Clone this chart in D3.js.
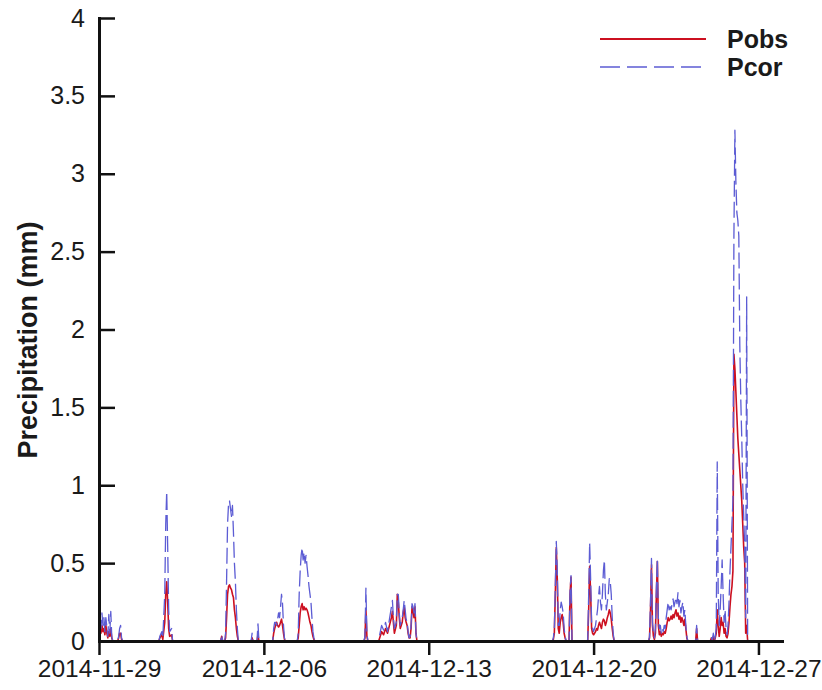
<!DOCTYPE html>
<html>
<head>
<meta charset="utf-8">
<script src="https://cdn.jsdelivr.net/npm/d3@7"></script>
<style>
  body { margin: 0; background: #fff; }
  svg { display: block; }
  text { font-family: Arial, "Liberation Sans", sans-serif; fill: #1a1a1a; }
</style>
</head>
<body>
<svg id="chart" width="822" height="690"></svg>
<script>
// Hourly precipitation, 2014-11-29 to 2014-12-28 (hours counted from the start).
const startTime = "2014-11-29T00:00:00Z";
const endTime = "2014-12-28T00:00:00Z";
const dateTicks = ["2014-11-29", "2014-12-06", "2014-12-13", "2014-12-20", "2014-12-27"];
const yTicks = [0, 0.5, 1, 1.5, 2, 2.5, 3, 3.5, 4];
const seriesNames = ["Pobs", "Pcor"];

// Wet hours only; dry spells are bracketed by zero readings.
const hours = [
  0, 1, 2, 3, 4, 5, 6, 7, 8, 9, 10, 11, 12, 13, 14,
  19, 20, 21, 22, 23, 24,
  61, 62, 64, 65, 67, 68, 69, 70, 71, 72, 74, 75,
  124, 125, 126,
  128, 129, 130, 131, 132, 133, 134, 135, 136, 137, 138, 139, 140, 141, 142,
  155, 156, 157, 161, 162, 163,
  177, 178, 179, 180, 181, 182, 183, 184, 185, 186, 187, 188, 189, 190,
  202, 203, 204, 205, 206, 207, 208, 209, 210, 211, 212, 213, 214, 215, 216, 217, 218, 219, 220,
  270, 271, 272, 273, 274,
  285, 286, 288, 290, 292, 294, 296, 298, 299, 300, 301, 303, 304, 305, 306, 307,
  309, 310, 311, 312, 313, 314, 315, 316, 317, 318, 319, 320, 321, 322, 323, 324,
  462, 463, 464, 465, 466, 467, 468, 469, 470, 471, 472, 473, 474, 475, 476,
  479, 480, 481, 482,
  498, 499, 500, 501, 502, 503, 504, 505, 506, 507, 508, 509, 510, 511, 512, 513,
  514, 515, 516, 517, 518, 519, 520, 521, 522, 523, 524, 525,
  560, 561, 562, 563, 564, 565, 566, 567, 568, 569, 570, 571, 572, 573, 574, 575,
  576, 577, 578, 579, 580, 581, 582, 583, 584, 585, 586, 587, 588, 589, 590, 591,
  592, 593, 594, 595, 596, 597, 598, 599, 600,
  608, 609, 610,
  623, 624, 625, 626, 627, 628, 629, 630, 631, 632, 633, 634, 635, 636, 637, 638,
  639, 640, 641, 642, 643, 644, 645, 646, 647, 648, 649, 650, 651, 652, 653, 654,
  655, 656, 657, 658, 659, 660, 661
];

const pobs = [
  0.10, 0.12, 0.05, 0.10, 0.06, 0.08, 0.04, 0.10, 0.05, 0.02, 0.06, 0.03, 0.08, 0.02, 0,
  0, 0.02, 0.05, 0.05, 0.01, 0,
  0, 0.02, 0.04, 0.01, 0.12, 0.30, 0.38, 0.25, 0.08, 0.03, 0.04, 0,
  0, 0.03, 0,
  0, 0.02, 0.15, 0.30, 0.35, 0.36, 0.34, 0.33, 0.30, 0.28, 0.20, 0.15, 0.08, 0.03, 0,
  0, 0.02, 0, 0, 0.04, 0,
  0, 0.05, 0.08, 0.10, 0.12, 0.10, 0.09, 0.10, 0.12, 0.14, 0.10, 0.05, 0.01, 0,
  0, 0.02, 0.10, 0.18, 0.22, 0.24, 0.20, 0.22, 0.20, 0.21, 0.20, 0.18, 0.15, 0.12, 0.10, 0.06, 0.03, 0.01, 0,
  0, 0.02, 0.20, 0.03, 0,
  0, 0.02, 0.06, 0.04, 0.08, 0.05, 0.10, 0.15, 0.19, 0.12, 0.05, 0.10, 0.30, 0.25, 0.15, 0.08,
  0.12, 0.18, 0.22, 0.15, 0.12, 0.10, 0.05, 0.02, 0.02, 0.08, 0.22, 0.20, 0.15, 0.22, 0.05, 0,
  0, 0.01, 0.05, 0.30, 0.60, 0.40, 0.08, 0.05, 0.12, 0.15, 0.17, 0.12, 0.05, 0.02, 0,
  0, 0.30, 0.41, 0,
  0, 0.20, 0.48, 0.30, 0.08, 0.05, 0.04, 0.05, 0.06, 0.08, 0.07, 0.10, 0.12, 0.10, 0.08, 0.12,
  0.14, 0.13, 0.10, 0.12, 0.15, 0.17, 0.20, 0.18, 0.14, 0.08, 0.03, 0,
  0, 0.02, 0.20, 0.49, 0.10, 0.03, 0.01, 0.05, 0.30, 0.51, 0.10, 0.04, 0.06, 0.03, 0.05, 0.04,
  0.06, 0.05, 0.08, 0.12, 0.15, 0.13, 0.14, 0.16, 0.14, 0.17, 0.15, 0.18, 0.20, 0.16, 0.18, 0.14,
  0.16, 0.12, 0.15, 0.13, 0.10, 0.14, 0.08, 0.02, 0,
  0, 0.08, 0,
  0, 0.02, 0, 0.03, 0, 0.02, 0.05, 0.20, 0.10, 0.03, 0.08, 0.15, 0.10, 0.12, 0.05, 0.08,
  0.03, 0.02, 0.05, 0.12, 0.22, 0.30, 0.35, 0.45, 1.84, 1.75, 1.60, 1.45, 1.30, 1.20, 1.10, 1.00,
  0.90, 0.75, 0.60, 0.50, 0.05, 0.10, 0
];

const pcor = [
  0.18, 0.22, 0.08, 0.18, 0.10, 0.15, 0.06, 0.15, 0.09, 0.03, 0.17, 0.05, 0.19, 0.03, 0,
  0, 0.03, 0.08, 0.10, 0.02, 0,
  0, 0.03, 0.06, 0.02, 0.30, 0.75, 0.96, 0.60, 0.20, 0.06, 0.08, 0,
  0, 0.04, 0,
  0, 0.05, 0.38, 0.75, 0.88, 0.90, 0.85, 0.80, 0.87, 0.70, 0.50, 0.38, 0.20, 0.08, 0,
  0, 0.05, 0, 0, 0.11, 0,
  0, 0.08, 0.12, 0.12, 0.10, 0.14, 0.18, 0.15, 0.22, 0.30, 0.24, 0.10, 0.02, 0,
  0, 0.05, 0.30, 0.45, 0.55, 0.60, 0.52, 0.57, 0.50, 0.55, 0.48, 0.42, 0.35, 0.30, 0.25, 0.15, 0.06, 0.02, 0,
  0, 0.03, 0.34, 0.05, 0,
  0, 0.04, 0.10, 0.07, 0.12, 0.06, 0.14, 0.22, 0.26, 0.15, 0.08, 0.12, 0.30, 0.30, 0.18, 0.10,
  0.15, 0.20, 0.26, 0.20, 0.14, 0.12, 0.06, 0.02, 0.03, 0.10, 0.24, 0.22, 0.18, 0.24, 0.05, 0,
  0, 0.02, 0.08, 0.35, 0.64, 0.45, 0.10, 0.10, 0.20, 0.25, 0.22, 0.18, 0.08, 0.03, 0,
  0, 0.32, 0.42, 0,
  0, 0.30, 0.63, 0.40, 0.12, 0.08, 0.06, 0.08, 0.10, 0.15, 0.20, 0.28, 0.35, 0.25, 0.20, 0.30,
  0.45, 0.52, 0.30, 0.20, 0.25, 0.30, 0.40, 0.38, 0.30, 0.15, 0.05, 0,
  0, 0.03, 0.25, 0.53, 0.12, 0.05, 0.02, 0.08, 0.35, 0.53, 0.15, 0.08, 0.10, 0.05, 0.08, 0.06,
  0.10, 0.08, 0.15, 0.20, 0.25, 0.20, 0.22, 0.20, 0.24, 0.27, 0.22, 0.25, 0.28, 0.24, 0.31, 0.22,
  0.26, 0.18, 0.22, 0.25, 0.16, 0.20, 0.10, 0.03, 0,
  0, 0.10, 0,
  0, 0.03, 0, 0.05, 0, 0.03, 0.08, 1.15, 0.30, 0.10, 0.20, 0.35, 0.52, 0.30, 0.12, 0.20,
  0.08, 0.04, 0.10, 0.25, 0.45, 0.60, 0.75, 0.90, 2.60, 3.28, 2.95, 2.75, 2.70, 2.60, 1.90, 1.55,
  1.30, 1.00, 0.80, 0.60, 0.15, 2.21, 0
];

const svg = d3.select("#chart");
const margin = { left: 99, right: 40, top: 18, bottom: 49 };
const W = +svg.attr("width"), H = +svg.attr("height");

const t0 = new Date(startTime);
const x = d3.scaleUtc()
  .domain([t0, new Date(endTime)])
  .range([margin.left, W - margin.right]);
const y = d3.scaleLinear()
  .domain([0, 4])
  .range([H - margin.bottom, margin.top]);

const rows = hours.map((h, i) => ({ t: d3.utcHour.offset(t0, h), obs: pobs[i], cor: pcor[i] }));

const colors = { Pobs: "#cc1020", Pcor: "#5c5cd4" };

// Series lines
const lineObs = d3.line().x(d => x(d.t)).y(d => y(d.obs));
const lineCor = d3.line().x(d => x(d.t)).y(d => y(d.cor));

svg.append("path").datum(rows)
  .attr("d", lineObs)
  .attr("fill", "none")
  .attr("stroke", colors.Pobs)
  .attr("stroke-width", 1.6)
  .attr("stroke-linejoin", "round");

svg.append("path").datum(rows)
  .attr("d", lineCor)
  .attr("fill", "none")
  .attr("stroke", colors.Pcor)
  .attr("stroke-width", 1.3)
  .attr("stroke-dasharray", "16,5")
  .attr("stroke-linejoin", "round");

// Axes
const parseDay = d3.utcParse("%Y-%m-%d");
const xAxis = d3.axisBottom(x)
  .tickValues(dateTicks.map(parseDay))
  .tickFormat(d3.utcFormat("%Y-%m-%d"))
  .tickSizeInner(14).tickSizeOuter(0).tickPadding(5);
const yAxis = d3.axisLeft(y)
  .tickValues(yTicks)
  .tickFormat(d => String(d))
  .tickSizeInner(-16).tickSizeOuter(0).tickPadding(14);

const gx = svg.append("g")
  .attr("transform", `translate(0,${H - margin.bottom})`)
  .call(xAxis);
const gy = svg.append("g")
  .attr("transform", `translate(${margin.left},0)`)
  .call(yAxis);

[gx, gy].forEach(g => {
  g.select(".domain").attr("stroke", "#111").attr("stroke-width", 3).attr("stroke-linecap", "square");
  g.selectAll(".tick line").attr("stroke", "#111").attr("stroke-width", 2.5);
  g.selectAll(".tick text")
    .attr("font-family", "Arial, 'Liberation Sans', sans-serif")
    .attr("fill", "#1a1a1a");
});
gx.selectAll(".tick text").attr("font-size", 24.5);
gy.selectAll(".tick text").attr("font-size", 25);

// Y axis title
svg.append("text")
  .attr("transform", "translate(37,340) rotate(-90)")
  .attr("text-anchor", "middle")
  .attr("font-size", 27)
  .attr("font-weight", "bold")
  .text("Precipitation (mm)");

// Legend
const legend = svg.append("g").attr("transform", "translate(600,39)");
seriesNames.forEach((name, i) => {
  const row = legend.append("g").attr("transform", `translate(0,${i * 28})`);
  row.append("line")
    .attr("x1", 0).attr("x2", 106).attr("y1", 0).attr("y2", 0)
    .attr("stroke", colors[name])
    .attr("stroke-width", name === "Pobs" ? 2 : 1.5)
    .attr("stroke-dasharray", name === "Pcor" ? "20,7" : null);
  row.append("text")
    .attr("x", 127).attr("y", 9)
    .attr("font-size", 25)
    .attr("font-weight", "bold")
    .text(name);
});
</script>
</body>
</html>
